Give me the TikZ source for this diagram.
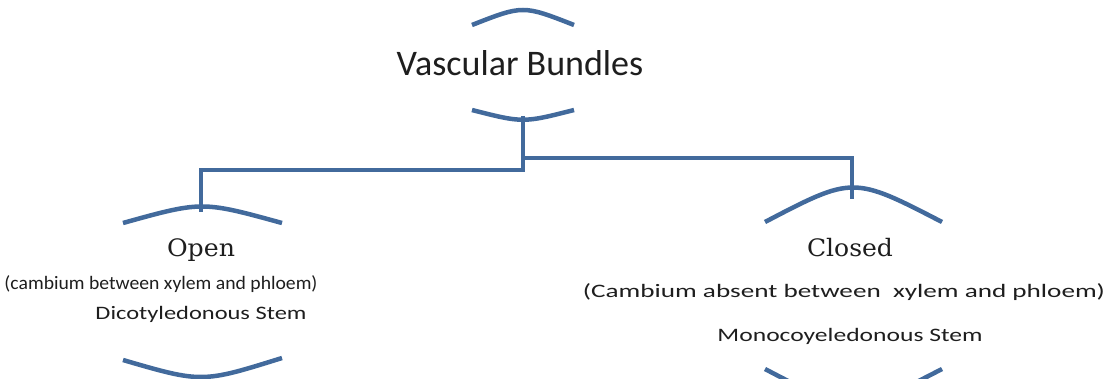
\documentclass[tikz,border=0pt]{standalone}
\usepackage{fontspec}
\usepackage{graphicx}
\setmainfont{Carlito}
\newfontfamily\kindfont{DejaVu Serif}
\definecolor{bundleblue}{RGB}{66,106,156}
\definecolor{inkgray}{RGB}{30,30,30}
\newcommand{\fitw}[2]{\resizebox{#1}{\height}{#2}}

\begin{document}
\begin{tikzpicture}[
  x=1pt,y=-1pt,
  every node/.style={inner sep=0pt,text=inkgray,anchor=base},
  title/.style={font=\fontsize{36}{40}\selectfont},
  kind/.style={font=\kindfont\fontsize{24}{28}\selectfont},
  note/.style={font=\fontsize{19}{22}\selectfont},
  brace/.style={draw=bundleblue,line width=4.5pt},
  branch/.style={draw=bundleblue,line width=4.5pt},
  ]
  \clip (0,0) rectangle (1110,379);

  % root
  \node[title](vb) at (520,76){Vascular Bundles};
  \draw[brace] (472,25) .. controls (523,5) .. (574,25);
  \draw[brace] (472,110) .. controls (523,123) .. (574,110);
  \coordinate (vbfoot) at (523,116);

  % open bundle
  \node[kind](open) at (201,257){\fitw{68pt}{Open}};
  \node[note](opennote) at (161,289){\fitw{313pt}{(cambium between xylem and phloem)}};
  \node[note](openstem) at (201,319){\fitw{211pt}{Dicotyledonous Stem}};
  \draw[brace] (123,223) .. controls (202,201) .. (282,223);
  \draw[brace] (123,360) .. controls (202,383) .. (282,358);
  \coordinate (opentop) at (201,212);

  % closed bundle
  \node[kind](closed) at (850,257){\fitw{86pt}{Closed}};
  \node[note](closednote) at (844,297){\fitw{522pt}{(Cambium absent between\ \ xylem and phloem)}};
  \node[note](closedstem) at (850,341){\fitw{265pt}{Monocoyeledonous Stem}};
  \draw[brace] (765,222) .. controls (853,176) .. (942,222);
  \draw[brace] (765,369) .. controls (853,415) .. (942,369);
  \coordinate (closedtop) at (852,199);

  % branches
  \coordinate (split) at (523,170);
  \coordinate (splitr) at (523,158);
  \draw[branch] (vbfoot) -- (split) -| (opentop);
  \draw[branch] (splitr) -| (closedtop);
\end{tikzpicture}
\end{document}
